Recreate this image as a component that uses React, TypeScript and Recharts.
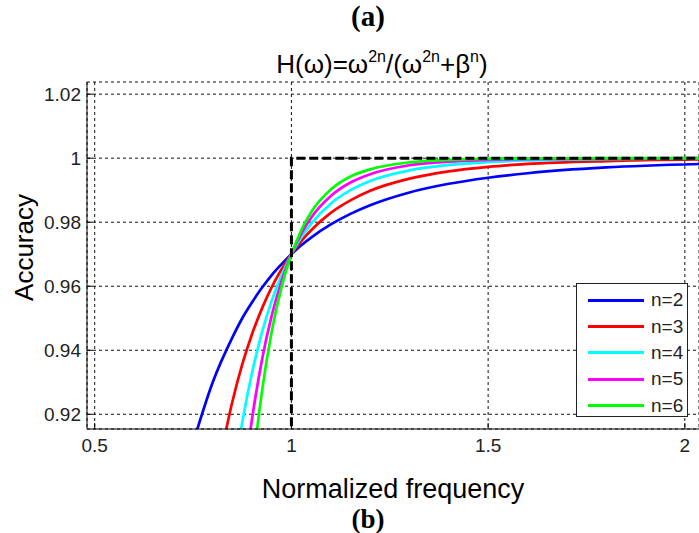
import React from 'react';
import { LineChart, Line, XAxis, YAxis, CartesianGrid, Label } from 'recharts';

// normalized frequency samples (x) and accuracy
const FREQ = [0.75, 0.8, 0.85, 0.875, 0.9, 0.925, 0.95, 0.975, 1.0, 1.025, 1.05, 1.1, 1.15, 1.2, 1.3, 1.4, 1.5, 1.6, 1.8, 2.04];
const ACC_N2 = [0.911, 0.93, 0.944, 0.95, 0.955, 0.9595, 0.9635, 0.9669, 0.97, 0.9728, 0.9752, 0.9793, 0.9826, 0.9853, 0.9893, 0.992, 0.9939, 0.9953, 0.9971, 0.9982];
const ACC_N3 = [null, 0.894, 0.924, 0.9356, 0.9451, 0.953, 0.9597, 0.9653, 0.97, 0.9741, 0.9775, 0.9829, 0.9868, 0.9898, 0.9936, 0.9959, 0.9973, 0.9982, 0.9991, 0.9996];
const ACC_N4 = [null, 0.8445, 0.898, 0.9175, 0.933, 0.9455, 0.9555, 0.9635, 0.97, 0.9753, 0.9795, 0.9858, 0.99, 0.9929, 0.9962, 0.9979, 0.9988, 0.9993, 0.9997, 0.9999];
const ACC_N5 = [null, null, 0.864, 0.8949, 0.9186, 0.9369, 0.9509, 0.9617, 0.97, 0.9764, 0.9814, 0.9882, 0.9924, 0.995, 0.9978, 0.9989, 0.9995, 0.9997, 0.9999, 1.0];
const ACC_N6 = [null, null, null, 0.867, 0.9014, 0.927, 0.9459, 0.9598, 0.97, 0.9775, 0.9831, 0.9902, 0.9943, 0.9965, 0.9987, 0.9995, 0.9998, 0.9999, 1.0, 1.0];

// ideal step response (black dashed)
const IDEAL_FREQ = [1, 1, 2.04];
const IDEAL_ACC = [0.9, 1, 1];

const X_TICKS = [0.5, 1, 1.5, 2];
const Y_TICKS = [0.92, 0.94, 0.96, 0.98, 1, 1.02];

const SERIES = [
  { name: 'n=2', color: '#0000ff', values: ACC_N2 },
  { name: 'n=3', color: '#ff0000', values: ACC_N3 },
  { name: 'n=4', color: '#00ffff', values: ACC_N4 },
  { name: 'n=5', color: '#ff00ff', values: ACC_N5 },
  { name: 'n=6', color: '#00ff00', values: ACC_N6 },
];

const W = 699;
const H = 533;
const PLOT_TOP = 82;
const PLOT_LEFT = 87;
const XAXIS_H = 104;
const PLOT_BOTTOM = H - XAXIS_H;
const SANS = '"Liberation Sans", Arial, sans-serif';
const SERIF = '"Liberation Serif", "Times New Roman", serif';

const fmt = (v: number) => String(Number(v.toFixed(2)));

function XTick({ x, payload }: any) {
  return (
    <g>
      <line x1={x} x2={x} y1={PLOT_BOTTOM} y2={PLOT_BOTTOM - 6} stroke="#000" />
      <text x={x} y={PLOT_BOTTOM + 23} textAnchor="middle" fontSize={19} fontFamily={SANS} fill="#222">
        {fmt(payload.value)}
      </text>
    </g>
  );
}

function YTick({ x, y, payload }: any) {
  return (
    <g>
      <line x1={PLOT_LEFT} x2={PLOT_LEFT + 6} y1={y} y2={y} stroke="#000" />
      <text x={x} y={y} dy="0.35em" textAnchor="end" fontSize={19} fontFamily={SANS} fill="#222">
        {fmt(payload.value)}
      </text>
    </g>
  );
}

function RightTick({ y }: any) {
  return <line x1={W - 6} x2={W} y1={y} y2={y} stroke="#000" />;
}

const sup = { fontSize: 16, position: 'relative' as const, top: -11 };

export default function App() {
  const seriesData = SERIES.map((s) => ({
    ...s,
    rows: FREQ.map((x, i) => ({ x, y: s.values[i] })).filter((d) => d.y != null),
  }));
  const idealRows = IDEAL_FREQ.map((x, i) => ({ x, y: IDEAL_ACC[i] }));

  return (
    <div style={{ position: 'absolute', left: 0, top: 0, width: W, height: H, background: '#fff', overflow: 'hidden' }}>
      <LineChart width={W} height={H} margin={{ top: PLOT_TOP, right: 0, left: 0, bottom: 0 }}>
        <CartesianGrid stroke="#111" strokeDasharray="3 3" />
        <XAxis
          dataKey="x"
          type="number"
          domain={[0.4804, 2.036]}
          ticks={X_TICKS}
          allowDataOverflow
          height={XAXIS_H}
          axisLine={{ stroke: '#000' }}
          tickLine={false}
          tick={<XTick />}
        >
          <Label value="Normalized frequency" position="insideBottom" offset={35} fontSize={27} fontFamily={SANS} fill="#000" />
        </XAxis>
        <YAxis
          type="number"
          domain={[0.9154, 1.0238]}
          ticks={Y_TICKS}
          allowDataOverflow
          width={PLOT_LEFT}
          axisLine={{ stroke: '#000' }}
          tickLine={false}
          tickSize={4}
          tickMargin={2}
          tick={<YTick />}
        >
          <Label value="Accuracy" angle={-90} position="center" dx={-20} dy={-8} fontSize={26} fontFamily={SANS} fill="#000" />
        </YAxis>
        <YAxis
          yAxisId="r"
          orientation="right"
          type="number"
          domain={[0.9154, 1.0238]}
          ticks={Y_TICKS}
          allowDataOverflow
          width={0}
          axisLine={false}
          tickLine={false}
          tick={<RightTick />}
        />
        {seriesData.map((s) => (
          <Line
            key={s.name}
            data={s.rows}
            dataKey="y"
            name={s.name}
            type="monotone"
            stroke={s.color}
            strokeWidth={2.7}
            dot={false}
            activeDot={false}
            isAnimationActive={false}
          />
        ))}
        <Line
          data={idealRows}
          dataKey="y"
          type="linear"
          stroke="#000"
          strokeWidth={3}
          strokeDasharray="9 4"
          dot={false}
          activeDot={false}
          isAnimationActive={false}
        />
      </LineChart>

      <div style={{ position: 'absolute', left: 218, width: 300, top: 2, textAlign: 'center', fontFamily: SERIF, fontWeight: 'bold', fontSize: 29, lineHeight: '29px' }}>
        (a)
      </div>
      <div style={{ position: 'absolute', left: 182, width: 400, top: 51, textAlign: 'center', fontFamily: SANS, fontSize: 26, lineHeight: '26px', whiteSpace: 'nowrap' }}>
        H(ω)=ω<span style={sup}>2n</span>/(ω<span style={sup}>2n</span>+β<span style={sup}>n</span>)
      </div>
      <div style={{ position: 'absolute', left: 218, width: 300, top: 506, textAlign: 'center', fontFamily: SERIF, fontWeight: 'bold', fontSize: 27, lineHeight: '27px' }}>
        (b)
      </div>

      <div style={{ position: 'absolute', left: 576, top: 283, width: 112, height: 134, border: '1px solid #222', background: '#fff', boxSizing: 'border-box' }}>
        {SERIES.map((s) => (
          <div key={s.name} style={{ height: 26.4, width: 110, display: 'flex', alignItems: 'center', marginTop: s === SERIES[0] ? 3 : 0 }}>
            <div style={{ marginLeft: 11, width: 56, height: 3, background: s.color }} />
            <span style={{ marginLeft: 7, fontFamily: SANS, fontSize: 19, color: '#222' }}>{s.name}</span>
          </div>
        ))}
      </div>
    </div>
  );
}
